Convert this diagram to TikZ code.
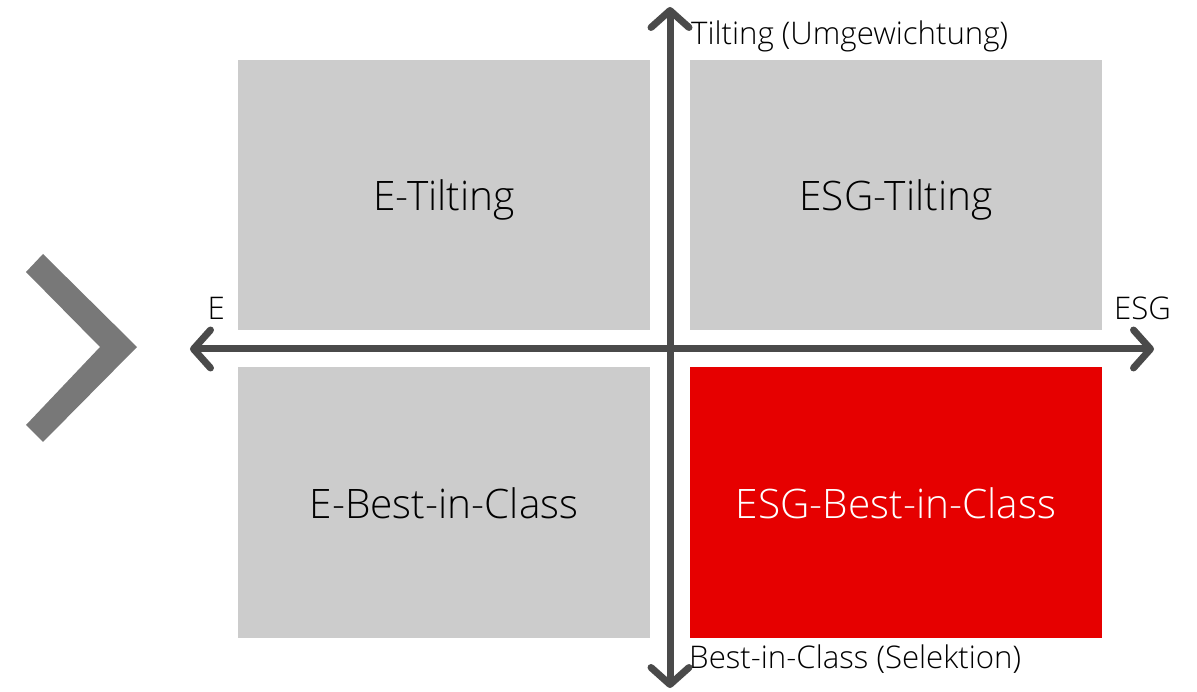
\documentclass[tikz,border=0pt]{standalone}
\usepackage{fontspec}
\setmainfont{Open Sans}[UprightFont=* Light]
\usetikzlibrary{arrows.meta}
\definecolor{boxgray}{HTML}{CCCCCC}
\definecolor{boxred}{HTML}{E60000}
\definecolor{axisgray}{HTML}{4A4A4A}
\definecolor{chevgray}{HTML}{787878}
\begin{document}
\begin{tikzpicture}[x=1pt,y=-1pt,
  quad/.style={rectangle, inner sep=0pt, minimum width=412pt, minimum height=270pt, fill=boxgray, font=\fontsize{40.6}{46}\selectfont, text=black, text height=32pt, text depth=0pt},
  axis/.style={draw=axisgray, line width=7pt, line cap=round, {Straight Barb[length=17pt,width=38pt,line width=7pt,round]}-{Straight Barb[length=17pt,width=38pt,line width=7pt,round]}},
  axlabel/.style={inner sep=0pt, font=\fontsize{31.2}{36}\selectfont, text=black}]
\useasboundingbox (0,0) rectangle (1197,692);
% chevron
\fill[chevgray] (43,254) -- (137,347) -- (43,442) -- (26,425) -- (100,347) -- (26,272) -- cycle;
% quadrants
\node[quad] (tl) at (444,195) {E-Tilting};
\node[quad] (tr) at (896,195) {ESG-Tilting};
\node[quad] (bl) at (444,502.5) {E-Best-in-Class};
\node[quad, fill=boxred, text=white] (br) at (896,502.5) {ESG-Best-in-Class};
% axes
\coordinate (top) at (670,7);
\coordinate (bot) at (670,688);
\coordinate (lft) at (190,349);
\coordinate (rgt) at (1154,349);
\draw[axis] (top) -- (bot);
\draw[axis] (lft) -- (rgt);
% labels
\node[axlabel, anchor=base west] (ylab1) at (691,45) {Tilting (Umgewichtung)};
\node[axlabel, anchor=base west] (ylab2) at (689,668) {Best-in-Class (Selektion)};
\node[axlabel, anchor=base east] (xlab1) at (225,320) {E};
\node[axlabel, anchor=base west] (xlab2) at (1114,320) {ESG};
\end{tikzpicture}
\end{document}
